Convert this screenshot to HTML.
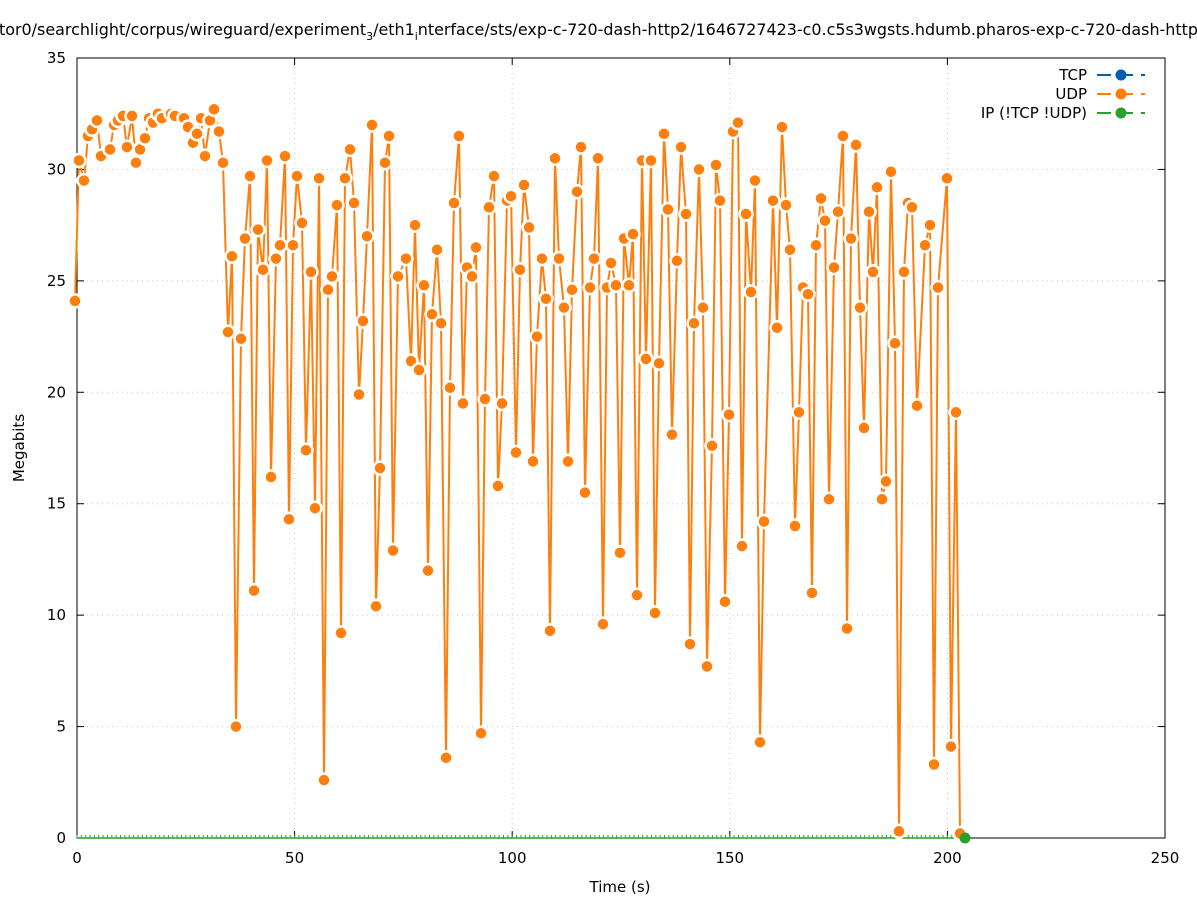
<!DOCTYPE html>
<html><head><meta charset="utf-8"><style>
html,body{margin:0;padding:0;background:#fff;}
svg{display:block;font-family:"DejaVu Sans","Liberation Sans",sans-serif;}
</style></head><body>
<svg id="s" width="1197" height="900" viewBox="0 0 1197 900" xmlns="http://www.w3.org/2000/svg">
<rect width="1197" height="900" fill="#fff"/>
<text x="-1" y="35" font-size="16" fill="#000" textLength="1199" lengthAdjust="spacingAndGlyphs">tor0/searchlight/corpus/wireguard/experiment<tspan font-size="11" dy="5">3</tspan><tspan dy="-5">/eth1</tspan><tspan font-size="11" dy="5">i</tspan><tspan dy="-5">nterface/sts/exp-c-720-dash-http2/1646727423-c0.c5s3wgsts.hdumb.pharos-exp-c-720-dash-http</tspan></text>
<g id="grid" stroke="#c8c8c8" stroke-width="1" stroke-dasharray="1,4"></g>
<g id="axes"></g>
<g id="data"></g>
<text x="620" y="892" font-size="15" text-anchor="middle">Time (s)</text>
<text x="24" y="448" font-size="15" text-anchor="middle" transform="rotate(-90 24 448)">Megabits</text>
<g font-size="15" text-anchor="end">
<text x="1087" y="80">TCP</text>
<text x="1087" y="99">UDP</text>
<text x="1087" y="118">IP (!TCP  !UDP)</text>
</g>
<g stroke-width="2" stroke-dasharray="14,8">
<line x1="1097" y1="75" x2="1145" y2="75" stroke="#0060ad"/>
<line x1="1097" y1="94" x2="1145" y2="94" stroke="#ff7f0e"/>
<line x1="1097" y1="113" x2="1145" y2="113" stroke="#2ca02c"/>
</g>
<circle cx="1121" cy="75" r="5.5" fill="#0060ad"/>
<circle cx="1121" cy="94" r="5.5" fill="#ff7f0e"/>
<circle cx="1121" cy="113" r="5.5" fill="#2ca02c"/>
</svg>
<script>
const NS="http://www.w3.org/2000/svg";
function el(p,t,a,txt){const e=document.createElementNS(NS,t);for(const k in a)e.setAttribute(k,a[k]);if(txt!==undefined)e.textContent=txt;p.appendChild(e);return e;}
const L=77,R=1165,T=58,B=838;
const X=v=>L+v*(R-L)/250, Y=v=>B-v*(B-T)/35;
const g=document.getElementById('grid'),a=document.getElementById('axes'),d=document.getElementById('data');
for(let i=1;i<5;i++){el(g,'line',{x1:X(i*50),y1:T,x2:X(i*50),y2:B});}
for(let i=1;i<7;i++){el(g,'line',{x1:L,y1:Y(i*5),x2:R,y2:Y(i*5)});}
el(a,'rect',{x:L,y:T,width:R-L,height:B-T,fill:'none',stroke:'#000','stroke-width':1});
for(let i=0;i<=5;i++){const x=X(i*50);el(a,'line',{x1:x,y1:B,x2:x,y2:B-7,stroke:'#000'});el(a,'line',{x1:x,y1:T,x2:x,y2:T+7,stroke:'#000'});
el(a,'text',{x:x,y:B+25,'font-size':15,'text-anchor':'middle'},String(i*50));}
for(let i=0;i<=7;i++){const y=Y(i*5);el(a,'line',{x1:L,y1:y,x2:L+7,y2:y,stroke:'#000'});el(a,'line',{x1:R,y1:y,x2:R-7,y2:y,stroke:'#000'});
el(a,'text',{x:66,y:y+5,'font-size':15,'text-anchor':'end'},String(i*5));}
el(d,'line',{x1:L,y1:B,x2:965,y2:B,stroke:'#2ca02c','stroke-width':1.5});
for(let t=0;t<=203;t++){el(d,'line',{x1:X(t),y1:B,x2:X(t),y2:B-3,stroke:'#2ca02c','stroke-width':1});}
const P=[[75,24.1],[79,30.4],[84,29.5],[88,31.5],[92,31.8],[97,32.2],[101,30.6],[110,30.9],[114,32.0],[118,32.2],[123,32.4],[127,31.0],[132,32.4],[136,30.3],[140,30.9],[145,31.4],[149,32.3],[153,32.1],[158,32.5],[162,32.3],[171,32.5],[175,32.4],[184,32.3],[188,31.9],[193,31.2],[197,31.6],[201,32.3],[205,30.6],[210,32.2],[214,32.7],[219,31.7],[223,30.3],[228,22.7],[232,26.1],[236,5.0],[241,22.4],[245,26.9],[250,29.7],[254,11.1],[258,27.3],[263,25.5],[267,30.4],[271,16.2],[276,26.0],[280,26.6],[285,30.6],[289,14.3],[293,26.6],[297,29.7],[302,27.6],[306,17.4],[311,25.4],[315,14.8],[319,29.6],[324,2.6],[328,24.6],[332,25.2],[337,28.4],[341,9.2],[345,29.6],[350,30.9],[354,28.5],[359,19.9],[363,23.2],[367,27.0],[372,32.0],[376,10.4],[380,16.6],[385,30.3],[389,31.5],[393,12.9],[398,25.2],[406,26.0],[411,21.4],[415,27.5],[419,21.0],[424,24.8],[428,12.0],[432,23.5],[437,26.4],[441,23.1],[446,3.6],[450,20.2],[454,28.5],[459,31.5],[463,19.5],[467,25.6],[472,25.2],[476,26.5],[481,4.7],[485,19.7],[489,28.3],[494,29.7],[498,15.8],[502,19.5],[507,28.6],[511,28.8],[516,17.3],[520,25.5],[524,29.3],[529,27.4],[533,16.9],[537,22.5],[542,26.0],[546,24.2],[550,9.3],[555,30.5],[559,26.0],[564,23.8],[568,16.9],[572,24.6],[577,29.0],[581,31.0],[585,15.5],[590,24.7],[594,26.0],[598,30.5],[603,9.6],[607,24.7],[611,25.8],[616,24.8],[620,12.8],[624,26.9],[629,24.8],[633,27.1],[637,10.9],[642,30.4],[646,21.5],[651,30.4],[655,10.1],[659,21.3],[664,31.6],[668,28.2],[672,18.1],[677,25.9],[681,31.0],[686,28.0],[690,8.7],[694,23.1],[699,30.0],[703,23.8],[707,7.7],[712,17.6],[716,30.2],[720,28.6],[725,10.6],[729,19.0],[733,31.7],[738,32.1],[742,13.1],[746,28.0],[751,24.5],[755,29.5],[760,4.3],[764,14.2],[773,28.6],[777,22.9],[782,31.9],[786,28.4],[790,26.4],[795,14.0],[799,19.1],[803,24.7],[808,24.4],[812,11.0],[816,26.6],[821,28.7],[825,27.7],[829,15.2],[834,25.6],[838,28.1],[843,31.5],[847,9.4],[851,26.9],[856,31.1],[860,23.8],[864,18.4],[869,28.1],[873,25.4],[877,29.2],[882,15.2],[886,16.0],[891,29.9],[895,22.2],[899,0.3],[904,25.4],[908,28.5],[912,28.3],[917,19.4],[925,26.6],[930,27.5],[934,3.3],[938,24.7],[947,29.6],[951,4.1],[956,19.1],[960,0.2]];
el(d,'polyline',{points:P.map(p=>p[0]+','+Y(p[1]).toFixed(1)).join(' '),fill:'none',stroke:'#ff7f0e','stroke-width':2});
P.forEach(p=>el(d,'circle',{cx:p[0],cy:Y(p[1]).toFixed(1),r:6.5,fill:'#ff7f0e',stroke:'#fff','stroke-width':2.5}));
el(d,'circle',{cx:965,cy:B,r:5.5,fill:'#2ca02c'});
</script>
</body></html>
